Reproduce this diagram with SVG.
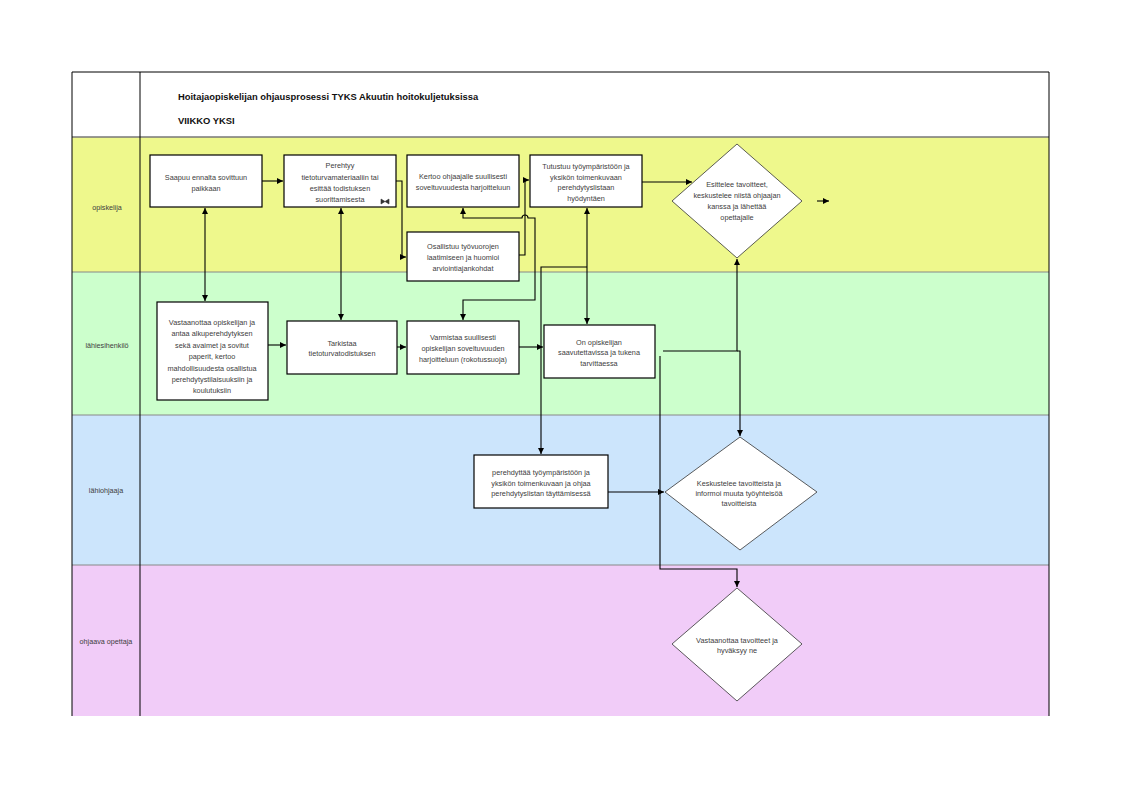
<svg xmlns="http://www.w3.org/2000/svg" width="1122" height="794" viewBox="0 0 1122 794">
<style>
.t{font-family:"Liberation Sans",Arial,sans-serif;font-size:7.3px;fill:#404040;text-anchor:middle}
.lbl{font-family:"Liberation Sans",Arial,sans-serif;font-size:7.2px;fill:#404040;text-anchor:middle}
.ttl{font-family:"Liberation Sans",Arial,sans-serif;font-size:9.4px;font-weight:bold;fill:#111}
.box{fill:#fff;stroke:#000;stroke-width:1.2}
.dia{fill:#fff;stroke:#333;stroke-width:0.8}
.c{fill:none;stroke:#000;stroke-width:1.1}
.a{marker-end:url(#ah)}
.b{marker-start:url(#ah);marker-end:url(#ah)}
</style>
<defs>
<marker id="ah" viewBox="0 0 10 10" refX="10" refY="5" markerWidth="6" markerHeight="6" markerUnits="userSpaceOnUse" orient="auto-start-reverse">
<path d="M0,0 L10,5 L0,10 z" fill="#000"/>
</marker>
</defs>
<rect width="1122" height="794" fill="#fff"/>
<g id="lanes">
<rect x="72" y="72" width="977" height="65" fill="#fff"/>
<rect x="72" y="137" width="977" height="135" fill="#EEF88C"/>
<rect x="72" y="272" width="977" height="143" fill="#CCFFCC"/>
<rect x="72" y="415" width="977" height="150" fill="#CCE5FC"/>
<rect x="72" y="565" width="977" height="151" fill="#F1CCF8"/>
<line x1="72" y1="137" x2="1049" y2="137" stroke="#777" stroke-width="1.5"/>
<line x1="72" y1="272" x2="1049" y2="272" stroke="#888" stroke-width="1"/>
<line x1="72" y1="415" x2="1049" y2="415" stroke="#888" stroke-width="1"/>
<line x1="72" y1="565" x2="1049" y2="565" stroke="#888" stroke-width="1"/>
<path d="M72,716 V72 H1049 V716" fill="none" stroke="#000" stroke-width="1"/>
<line x1="140" y1="72" x2="140" y2="716" stroke="#000" stroke-width="1"/>
<text class="ttl" x="178" y="100">Hoitajaopiskelijan ohjausprosessi TYKS Akuutin hoitokuljetuksissa</text>
<text class="ttl" x="178" y="124">VIIKKO YKSI</text>
<text class="lbl" x="107" y="210">opiskelija</text>
<text class="lbl" x="107" y="348">lähiesihenkilö</text>
<text class="lbl" x="106" y="493">lähiohjaaja</text>
<text class="lbl" x="106" y="644">ohjaava opettaja</text>
</g>
<g id="connectors">
<path class="c b" d="M205,208 V301"/>
<path class="c a" d="M262,181 H283"/>
<path class="c b" d="M341,208 V320"/>
<path class="c a" d="M396,181 H402 V257 H406"/>
<path class="c a" d="M519,255 H525 V180 H529"/>
<path class="c b" d="M463,208 V218 H522 A3,3 0 0 1 528,218 H535 V300 H463 V320"/>
<path class="c a" d="M268,345 H286"/>
<path class="c a" d="M397,347 H406"/>
<path class="c a" d="M519,347 H543"/>
<path class="c b" d="M587,208 V324"/>
<path class="c a" d="M587,267 H541 V454"/>
<path class="c a" d="M642,182 H692"/>
<path class="c a" d="M663,351 H737 V259"/>
<path class="c a" d="M737,351 H740 V436"/>
<path class="c a" d="M608,492 H664"/>
<path class="c a" d="M660,356 V569 H737 V587"/>
<path class="c a" d="M817,201 H829"/>
</g>
<g id="n1">
<rect class="box" x="150" y="155" width="112" height="52"/>
<text class="t" x="206" y="180">Saapuu ennalta sovittuun</text>
<text class="t" x="206" y="191">paikkaan</text>
</g>
<g id="n2">
<rect class="box" x="284" y="155" width="112" height="52"/>
<text class="t" x="340" y="168">Perehtyy</text>
<text class="t" x="340" y="180">tietoturvamateriaaliin tai</text>
<text class="t" x="340" y="191">esittää todistuksen</text>
<text class="t" x="340" y="202">suorittamisesta</text>
<path d="M381,199 L385,201.5 L381,204 z M389,199 L385,201.5 L389,204 z" fill="#333" stroke="#333" stroke-width="0.6"/>
</g>
<g id="n3">
<rect class="box" x="407" y="155" width="112" height="52"/>
<text class="t" x="463" y="179">Kertoo ohjaajalle suullisesti</text>
<text class="t" x="463" y="190">soveltuvuudesta harjoitteluun</text>
</g>
<g id="n4">
<rect class="box" x="530" y="155" width="112" height="52"/>
<text class="t" x="586" y="169">Tutustuu työympäristöön ja</text>
<text class="t" x="586" y="180">yksikön toimenkuvaan</text>
<text class="t" x="586" y="190">perehdytyslistaan</text>
<text class="t" x="586" y="201">hyödyntäen</text>
</g>
<g id="n5">
<polygon class="dia" points="737,144 802,201 737,258 672,201"/>
<text class="t" x="737" y="187">Esittelee tavoitteet,</text>
<text class="t" x="737" y="198">keskustelee niistä ohjaajan</text>
<text class="t" x="737" y="209">kanssa ja lähettää</text>
<text class="t" x="737" y="220">opettajalle</text>
</g>
<g id="n6">
<rect class="box" x="407" y="232" width="112" height="49"/>
<text class="t" x="463" y="249">Osallistuu työvuorojen</text>
<text class="t" x="463" y="260">laatimiseen ja huomioi</text>
<text class="t" x="463" y="271">arviointiajankohdat</text>
</g>
<g id="n7">
<rect class="box" x="157" y="302" width="111" height="98"/>
<text class="t" x="212" y="325">Vastaanottaa opiskelijan ja</text>
<text class="t" x="212" y="336">antaa alkuperehdytyksen</text>
<text class="t" x="212" y="348">sekä avaimet ja sovitut</text>
<text class="t" x="212" y="359">paperit, kertoo</text>
<text class="t" x="212" y="371">mahdollisuudesta osallistua</text>
<text class="t" x="212" y="382">perehdytystilaisuuksiin ja</text>
<text class="t" x="212" y="393">koulutuksiin</text>
</g>
<g id="n8">
<rect class="box" x="287" y="321" width="110" height="53"/>
<text class="t" x="342" y="346">Tarkistaa</text>
<text class="t" x="342" y="356">tietoturvatodistuksen</text>
</g>
<g id="n9">
<rect class="box" x="407" y="321" width="112" height="53"/>
<text class="t" x="463" y="340">Varmistaa suullisesti</text>
<text class="t" x="463" y="351">opiskelijan soveltuvuuden</text>
<text class="t" x="463" y="362">harjoitteluun (rokotussuoja)</text>
</g>
<g id="n10">
<rect class="box" x="544" y="325" width="111" height="53"/>
<text class="t" x="599" y="345">On opiskelijan</text>
<text class="t" x="599" y="355">saavutettavissa ja tukena</text>
<text class="t" x="599" y="366">tarvittaessa</text>
</g>
<g id="n11">
<rect class="box" x="474" y="455" width="134" height="53"/>
<text class="t" x="541" y="475">perehdyttää työympäristöön ja</text>
<text class="t" x="541" y="486">yksikön toimenkuvaan ja ohjaa</text>
<text class="t" x="541" y="496">perehdytyslistan täyttämisessä</text>
</g>
<g id="n12">
<polygon class="dia" points="740,437 817,492 740,550 665,492"/>
<text class="t" x="739" y="486">Keskustelee tavoitteista ja</text>
<text class="t" x="739" y="496">informoi muuta työyhteisöä</text>
<text class="t" x="739" y="506">tavoitteista</text>
</g>
<g id="n13">
<polygon class="dia" points="737,588 802,644 737,701 672,644"/>
<text class="t" x="737" y="643">Vastaanottaa tavoitteet ja</text>
<text class="t" x="737" y="653">hyväksyy ne</text>
</g>
</svg>
